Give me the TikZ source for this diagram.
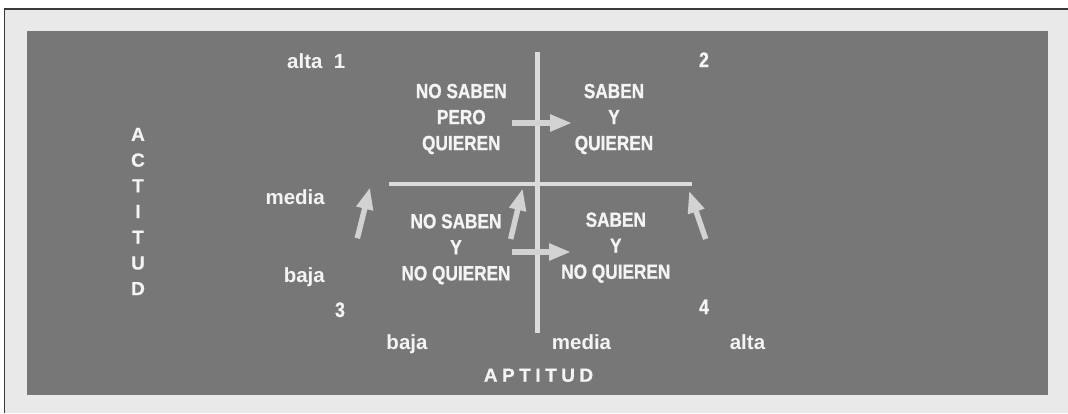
\documentclass[tikz,border=0pt]{standalone}
\usepackage{fontspec}
\setmainfont{Liberation Sans}
\newfontfamily\condfont{Liberation Sans}[FakeStretch=0.84,FakeBold=0.9]
\newfontfamily\heavyfont{Liberation Sans}[FakeBold=0.6]
\usetikzlibrary{arrows.meta}
\definecolor{bgl}{HTML}{E9E9E9}
\definecolor{panel}{HTML}{777777}
\definecolor{framec}{HTML}{3A3A3A}
\definecolor{axisc}{HTML}{DCDCDC}
\definecolor{arrowc}{HTML}{D2D2D2}
\definecolor{txt}{HTML}{F4F4F4}
\tikzset{
  quad/.style={text=txt, align=center, inner sep=0pt, font=\condfont\bfseries\fontsize{20.5}{26}\selectfont},
  lab/.style={text=txt, inner sep=0pt, font=\bfseries\fontsize{20.5}{24}\selectfont},
  num/.style={text=txt, inner sep=0pt, font=\condfont\bfseries\fontsize{21}{24}\selectfont},
  axisline/.style={draw=axisc, line width=4.5pt},
  movearrow/.style={draw=arrowc, line width=5.5pt, -{Triangle[length=22pt,width=16pt]}},
}
\begin{document}
\begin{tikzpicture}[x=1pt,y=-1pt]
\useasboundingbox (0,0) rectangle (1068,413);
\fill[white] (0,0) rectangle (1068,413);
\fill[bgl] (4.5,9) rectangle (1068,413);
\draw[framec, line width=1.5pt] (4.5,413) -- (4.5,9) -- (1068,9);
\fill[panel] (27,31) rectangle (1048,395);

% axes
\coordinate (vt) at (537.3,51.7);
\coordinate (vb) at (537.3,333);
\coordinate (hl) at (389,184);
\coordinate (hr) at (692,184);
\draw[axisline] (vt) -- (vb);
\draw[axisline] (hl) -- (hr);

% quadrant texts
\node[quad] (q1) at (461.3,119) {NO SABEN\\PERO\\QUIEREN};
\node[quad] (q2) at (614,119) {SABEN\\Y\\QUIEREN};
\node[quad] (q3) at (456,249.2) {NO SABEN\\Y\\NO QUIEREN};
\node[quad] (q4) at (615.8,247.6) {SABEN\\Y\\NO QUIEREN};

% arrows
\coordinate (a1s) at (512,123);
\coordinate (a1e) at (572,123);
\coordinate (a2s) at (512,252);
\coordinate (a2e) at (571,252);
\coordinate (d1s) at (357.3,238.3);
\coordinate (d1e) at (370,187.3);
\coordinate (d2s) at (510.7,239);
\coordinate (d2e) at (522.7,188.3);
\coordinate (d3s) at (705.7,239);
\coordinate (d3e) at (689,190.7);
\draw[movearrow] (a1s) -- (a1e);
\draw[movearrow] (a2s) -- (a2e);
\draw[movearrow] (d1s) -- (d1e);
\draw[movearrow] (d2s) -- (d2e);
\draw[movearrow] (d3s) -- (d3e);

% labels
\node[lab, anchor=base west] (alta1) at (287,68) {alta\ \ 1};
\node[num, anchor=base] (n2) at (704,67) {2};
\node[num, anchor=base] (n3) at (340,317) {3};
\node[num, anchor=base] (n4) at (704,314) {4};
\node[lab, anchor=base east] (ymed) at (325,204) {media};
\node[lab, anchor=base east] (ybaj) at (325,282) {baja};
\node[lab, anchor=base] (xbaj) at (407,349) {baja};
\node[lab, anchor=base] (xmed) at (581.5,349) {media};
\node[lab, anchor=base] (xalt) at (747.5,349) {alta};
\node[text=txt, inner sep=0pt, anchor=base, font=\heavyfont\bfseries\fontsize{19}{22}\selectfont] (apt) at (538.5,381.7)
  {A\hspace{4.5pt}P\hspace{4.5pt}T\hspace{4.5pt}I\hspace{4.5pt}T\hspace{4.5pt}U\hspace{4.5pt}D};
\node[text=txt, inner sep=0pt, align=center, font=\heavyfont\bfseries\fontsize{19}{25.7}\selectfont] (act) at (138,211.5)
  {A\\C\\T\\I\\T\\U\\D};
\end{tikzpicture}
\end{document}
